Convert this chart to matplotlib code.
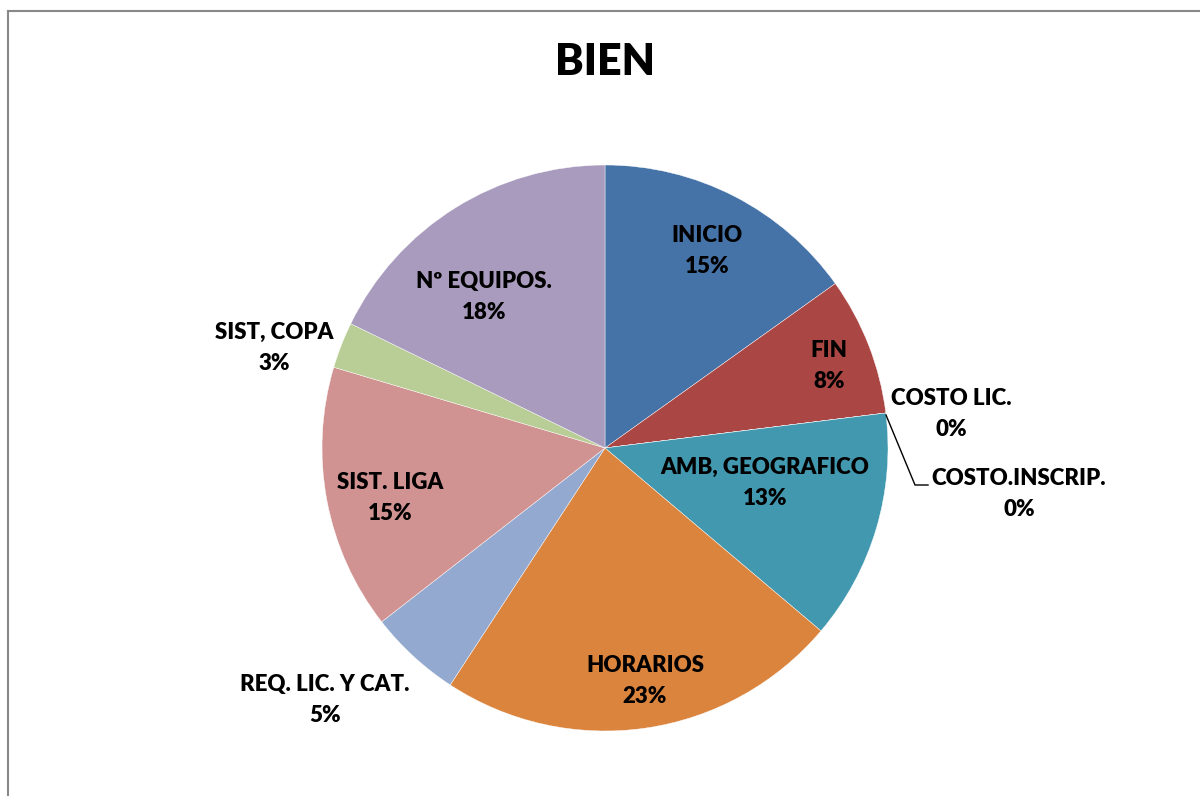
import matplotlib
matplotlib.use("Agg")
import matplotlib.pyplot as plt
from matplotlib.lines import Line2D

plt.rcParams['font.family'] = ['Lato', 'DejaVu Sans']

# Data
labels = ["INICIO", "FIN", "COSTO LIC.", "COSTO.INSCRIP.", "AMB, GEOGRAFICO",
          "HORARIOS", "REQ. LIC. Y CAT.", "SIST. LIGA", "SIST, COPA", "Nº EQUIPOS."]
counts = [23, 12, 0, 0, 20, 35, 8, 23, 4, 27]
colors = ["#4572A7", "#AA4643", "#89A54E", "#80699B", "#4198AF",
          "#DB843D", "#93A9CF", "#D19392", "#B9CD96", "#A99BBD"]

# label centres in pixels (x, y from top)
label_px = [(707, 251), (829, 366), (951, 414), (1019, 494), (765, 483),
            (645, 681), (325, 700), (390, 498), (274, 348), (484, 297)]

W, H = 1200, 796
cx, cy, r = 605, 448, 283

fig = plt.figure(figsize=(W / 100, H / 100), dpi=100)
ax = fig.add_axes([(cx - r) / W, (H - cy - r) / H, 2 * r / W, 2 * r / H])

ax.pie(counts, colors=colors, startangle=90, counterclock=False, radius=1,
       wedgeprops=dict(edgecolor="white", linewidth=0.3))
ax.set_xlim(-1, 1)
ax.set_ylim(-1, 1)
ax.set_aspect("equal")
ax.axis("off")

total = sum(counts)


def to_data(px, py):
    return (px - cx) / r, (cy - py) / r


for lab, c, (px, py) in zip(labels, counts, label_px):
    x, y = to_data(px, py)
    pct = round(100 * c / total)
    ax.text(x, y, f"{lab}\n{pct}%", ha="center", va="center",
            fontsize=16, fontweight="heavy", linespacing=1.6, clip_on=False)

# leader line for COSTO.INSCRIP.
lx, ly = zip(*[to_data(886, 415), to_data(915, 485), to_data(928, 485)])
ax.plot(lx, ly, color="black", lw=1, clip_on=False)

fig.text(605 / W, 1 - 62 / H, "BIEN", ha="center", va="center",
         fontsize=31, fontweight="heavy")

# chart border (cropped at right and bottom)
fig.add_artist(Line2D([8 / W, 8 / W], [0, 1 - 11 / H], color="#888888", lw=1.5,
                      transform=fig.transFigure))
fig.add_artist(Line2D([8 / W, 1], [1 - 11 / H, 1 - 11 / H], color="#888888", lw=1.5,
                      transform=fig.transFigure))

fig.savefig("out.png", dpi=100)
